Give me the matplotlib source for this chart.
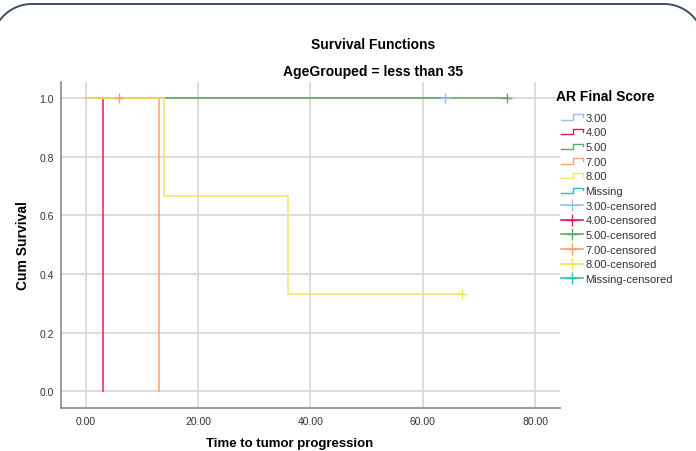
import numpy as np
import matplotlib.pyplot as plt
from matplotlib.lines import Line2D
from matplotlib.legend_handler import HandlerBase

plt.rcParams['font.family'] = ['Liberation Sans', 'DejaVu Sans']

# Kaplan-Meier step data per AR Final Score group
groups = ['3.00', '4.00', '5.00', '7.00', '8.00', 'Missing']
colors = ['#9cc0ee', '#e3195c', '#5daa62', '#f7a06c', '#f2e45a', '#2cc1b2']

# step times and survival levels (start at time 0, level 1.0)
step_times = {
    '3.00': [0, 64],
    '4.00': [0, 3, 3],
    '5.00': [0, 75],
    '7.00': [0, 13, 13],
    '8.00': [0, 14, 14, 36, 36, 67],
}
step_surv = {
    '3.00': [1.0, 1.0],
    '4.00': [1.0, 1.0, 0.0],
    '5.00': [1.0, 1.0],
    '7.00': [1.0, 1.0, 0.0],
    '8.00': [1.0, 1.0, 0.6667, 0.6667, 0.3333, 0.3333],
}
# censored observations
cens_times = {'3.00': [64], '5.00': [75], '7.00': [6], '8.00': [67]}
cens_surv = {'3.00': [1.0], '5.00': [1.0], '7.00': [1.0], '8.00': [0.3333]}

x_ticks = [0, 20, 40, 60, 80]
y_ticks = [0.0, 0.2, 0.4, 0.6, 0.8, 1.0]


class HandlerStep(HandlerBase):
    def create_artists(self, legend, orig_handle, xdescent, ydescent,
                       width, height, fontsize, trans):
        x0, x1 = -xdescent, -xdescent + width
        xm = x0 + 0.55 * width
        lo, hi = -ydescent + 0.15 * height, -ydescent + 0.85 * height
        ln = Line2D([x0, xm, xm, x1, x1], [lo, lo, hi, hi, lo + 0.35 * height],
                    color=orig_handle.get_color(), lw=1.0, transform=trans)
        return [ln]


fig = plt.figure(figsize=(6.96, 4.52), dpi=100)

# rounded frame across the top, drawn in pixel space on an overlay axes
bg = fig.add_axes([0, 0, 1, 1])
bg.set_xlim(0, 696)
bg.set_ylim(452, 0)
bg.axis('off')
r = 40
th = np.linspace(np.pi, 1.5 * np.pi, 40)
left_x = -8 + r + r * np.cos(th)
left_y = 5 + r + r * np.sin(th)
right_x = 704 - r - r * np.cos(th)
bg.plot(np.r_[-8, left_x, right_x[::-1], 704],
        np.r_[460, left_y, left_y[::-1], 460],
        color='#3d4d6b', lw=1.4, solid_capstyle='round')

ax = fig.add_axes([0.0876, 0.0951, 0.717, 0.7213])

for g, c in zip(groups, colors):
    if g in step_times:
        ax.plot(step_times[g], step_surv[g], color=c, lw=1.2, alpha=0.9,
                solid_joinstyle='miter')
for g, c in zip(groups, colors):
    if g in cens_times:
        ax.plot(cens_times[g], cens_surv[g], ls='none', marker='+',
                markersize=7, mew=1.0, color=c)

ax.set_xlim(-4.4, 84.4)
ax.set_ylim(-0.057, 1.055)
ax.set_xticks(x_ticks)
ax.set_xticklabels([f'{v:.2f}' for v in x_ticks])
ax.set_yticks(y_ticks)
ax.set_yticklabels([f'{v:.1f}' for v in y_ticks])
ax.tick_params(length=0, labelsize=7.5, colors='#333333')
ax.tick_params(axis='y', pad=5)
ax.tick_params(axis='x', pad=6)
ax.grid(True, color='#d6d6d6', lw=1.2)
ax.set_axisbelow(True)
for s in ['top', 'right']:
    ax.spines[s].set_visible(False)
for s in ['left', 'bottom']:
    ax.spines[s].set_color('#8a8a8a')
    ax.spines[s].set_linewidth(1.2)

ax.set_ylabel('Cum Survival', fontsize=10, fontweight='bold', labelpad=7)
fig.text(290 / 696, 1 - 444 / 452, 'Time to tumor progression', ha='center',
         va='center', fontsize=9.5, fontweight='bold')

fig.text(0.536, 0.900, 'Survival Functions', ha='center', va='center',
         fontsize=10, fontweight='bold')
fig.text(0.536, 0.841, 'AgeGrouped = less than 35', ha='center', va='center',
         fontsize=10, fontweight='bold')

# legend: step icons for groups, then censor markers
handles = [Line2D([], [], color=c) for c in colors]
handles += [Line2D([], [], color=c, marker='+', markersize=9, mew=1.0, lw=1.2)
            for c in colors]
labels = groups + [f'{g}-censored' for g in groups]
hmap = {h: HandlerStep() for h in handles[:6]}
fig.text(0.799, 1 - 97 / 452, 'AR Final Score', ha='left', va='center',
         fontsize=10, fontweight='bold')
leg = fig.legend(handles, labels, handler_map=hmap, loc='upper left',
                 bbox_to_anchor=(0.795, 1 - 106 / 452), frameon=False,
                 fontsize=8, handlelength=2.0, handletextpad=0.2,
                 labelspacing=0.42, borderpad=0.2)
for t in leg.get_texts():
    t.set_color('#333333')

fig.savefig('out.png', dpi=100)
